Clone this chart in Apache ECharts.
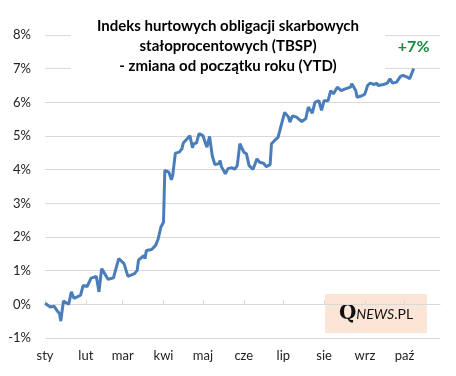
<!DOCTYPE html>
<html>
<head>
<meta charset="utf-8">
<script src="https://cdn.jsdelivr.net/npm/echarts@6/dist/echarts.min.js"></script>
<style>
  html, body { margin: 0; padding: 0; background: #fff; }
  #chart { width: 456px; height: 376px; }
</style>
</head>
<body>
<div id="chart"></div>
<script>
// dni od 1 stycznia i zmiana indeksu TBSP (%)
var days = [0, 4, 7, 9, 11, 12, 14, 18, 20, 22, 27, 29, 32, 35, 39, 41, 43, 48, 52, 56,
	60, 61, 63, 68, 70, 71, 75, 76, 77, 81, 84, 86, 88, 90, 91, 94, 96, 97, 99, 102,
	104, 105, 108, 110, 112, 113, 115, 117, 120, 122, 123, 125, 127, 129, 132, 133, 134, 137, 139, 142,
	144, 146, 148, 151, 153, 155, 158, 161, 163, 166, 168, 171, 172, 175, 177, 179, 182, 185, 186, 188,
	191, 195, 198, 200, 203, 205, 208, 210, 212, 215, 217, 219, 222, 223, 225, 228, 232, 233, 236, 237,
	241, 243, 245, 247, 250, 252, 253, 257, 260, 262, 264, 267, 270, 272, 275, 277, 280];
var values = [0.03, -0.08, -0.06, -0.18, -0.27, -0.50, 0.10, 0.00, 0.37, 0.18, 0.27, 0.56, 0.53, 0.78, 0.83, 0.37, 1.06, 0.74, 0.79, 1.36,
	1.21, 1.23, 0.83, 0.91, 1.01, 1.31, 1.45, 1.36, 1.60, 1.63, 1.75, 1.95, 2.29, 2.44, 3.98, 3.93, 3.70, 3.83, 4.49, 4.52,
	4.62, 4.79, 4.92, 5.01, 4.65, 4.77, 4.79, 5.07, 5.01, 4.77, 4.67, 4.99, 4.42, 4.15, 4.18, 4.27, 4.09, 3.88, 4.03, 4.06,
	4.01, 4.12, 4.77, 4.52, 4.47, 4.12, 4.01, 4.32, 4.22, 4.19, 4.09, 4.15, 4.77, 4.89, 4.96, 5.26, 5.70, 5.56, 5.41, 5.60,
	5.56, 5.43, 5.51, 5.86, 5.68, 6.00, 6.05, 5.76, 6.05, 6.05, 6.35, 6.25, 6.45, 6.50, 6.35, 6.40, 6.45, 6.55, 6.35, 6.15,
	6.20, 6.25, 6.50, 6.57, 6.53, 6.57, 6.50, 6.53, 6.57, 6.70, 6.57, 6.60, 6.77, 6.80, 6.75, 6.70, 7.00];
var months = ['sty', 'lut', 'mar', 'kwi', 'maj', 'cze', 'lip', 'sie', 'wrz', 'paź'];
var monthStarts = [0, 31, 59, 90, 120, 151, 181, 212, 243, 273];
var yTicks = [-1, 0, 1, 2, 3, 4, 5, 6, 7, 8];
var lastDay = 300;

var cats = [];
var lineData = [];
for (var i = 0; i <= lastDay; i++) {
	cats.push(String(i));
	lineData.push(null);
}
for (var j = 0; j < days.length; j++) {
	lineData[days[j]] = values[j];
}
var isMonth = function(idx) { return monthStarts.indexOf(idx) >= 0; };

var myChart = echarts.init(document.getElementById('chart'));
var option = {
	animation: false,
	textStyle: { fontFamily: 'Lato' },
	title: {
		text: 'Indeks hurtowych obligacji skarbowych\nstałoprocentowych (TBSP)\n- zmiana od początku roku (YTD)',
		left: 'center',
		top: 11,
		padding: [5, 26, 5, 26],
		backgroundColor: '#fff',
		textStyle: {
			fontFamily: 'Lato',
			fontSize: 15,
			fontWeight: 'bold',
			color: '#000',
			lineHeight: 20
		}
	},
	grid: { left: 45, right: 16, top: 35, bottom: 38 },
	xAxis: [{
		type: 'category',
		data: cats,
		boundaryGap: false,
		axisLine: { show: false, onZero: false },
		axisTick: { show: false },
		axisLabel: {
			interval: function(idx) { return isMonth(idx); },
			formatter: function(v) { return months[monthStarts.indexOf(+v)] || ''; },
			color: '#222',
			fontSize: 13,
			margin: 11
		}
	}, {
		type: 'category',
		data: cats,
		boundaryGap: false,
		axisLine: { show: true, onZero: true, lineStyle: { color: '#d9d9d9', width: 1 } },
		axisTick: {
			show: true,
			length: 4,
			interval: function(idx) { return isMonth(idx); },
			lineStyle: { color: '#d9d9d9' }
		},
		axisLabel: { show: false }
	}],
	yAxis: {
		type: 'value',
		min: yTicks[0],
		max: yTicks[yTicks.length - 1],
		interval: 1,
		axisLine: { show: false },
		axisTick: { show: false },
		axisLabel: { formatter: '{value}%', color: '#222', fontSize: 13, margin: 14 },
		splitLine: { lineStyle: { color: '#d9d9d9', width: 1 } }
	},
	series: [{
		type: 'line',
		data: lineData,
		connectNulls: true,
		showSymbol: false,
		symbol: 'none',
		lineStyle: { color: '#4a7ebb', width: 3 },
		itemStyle: { color: '#4a7ebb' },
		markPoint: {
			symbol: 'circle',
			symbolSize: 0,
			data: [{ coord: [String(days[days.length - 1]), values[values.length - 1]] }],
			label: {
				show: true,
				formatter: '+7%',
				offset: [0, -22],
				color: '#178a3c',
				fontSize: 16,
				fontWeight: 'bold',
				fontFamily: 'Lato'
			}
		}
	}],
	graphic: [{
		type: 'group',
		right: 29,
		bottom: 43,
		children: [{
			type: 'rect',
			shape: { x: 0, y: 0, width: 102, height: 39 },
			style: { fill: '#fbe5d6' }
		}, {
			type: 'text',
			x: 51,
			y: 20,
			style: {
				text: '{q|Q}{n|NEWS}{p|.PL}',
				align: 'center',
				verticalAlign: 'middle',
				rich: {
					q: { fontFamily: 'DejaVu Serif', fontWeight: 'bold', fontSize: 20, fill: '#111' },
					n: { fontFamily: 'Lato', fontStyle: 'italic', fontSize: 14, fill: '#111' },
					p: { fontFamily: 'Lato', fontSize: 14, fill: '#111' }
				}
			}
		}]
	}]
};
myChart.setOption(option);
window.addEventListener('resize', function() {
	myChart.resize();
});
</script>
</body>
</html>
